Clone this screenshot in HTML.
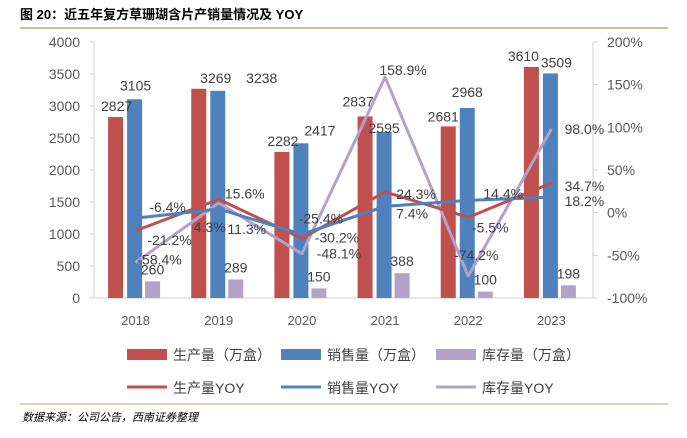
<!DOCTYPE html>
<html><head><meta charset="utf-8">
<style>
body{margin:0;background:#fff;width:687px;height:433px;overflow:hidden;font-family:"Liberation Sans","Noto Sans CJK SC",sans-serif;}
svg text{font-family:"Liberation Sans","Noto Sans CJK SC",sans-serif;}
</style></head><body>
<svg id="c" width="687" height="433">
<text x="20" y="19" font-size="13" font-weight="bold" fill="#000">图 20：近五年复方草珊瑚含片产销量情况及 YOY</text>
<line x1="20" y1="28" x2="668" y2="28" stroke="#c9a26a" stroke-width="1.5"/>
<line x1="20" y1="404" x2="668" y2="404" stroke="#c9a26a" stroke-width="1"/>
<text x="22" y="421" font-size="11" font-style="italic" fill="#000">数据来源：公司公告，西南证券整理</text>
<g id="plot"></g>
</svg>
<script>
const years=["2018","2019","2020","2021","2022","2023"];
const prod=[2827,3269,2282,2837,2681,3610];
const sales=[3105,3238,2417,2595,2968,3509];
const inv=[260,289,150,388,100,198];
const prodYoy=[-21.2,15.6,-30.2,24.3,-5.5,34.7];
const salesYoy=[-6.4,4.3,-25.4,7.4,14.4,18.2];
const invYoy=[-58.4,11.3,-48.1,158.9,-74.2,98.0];
const leftTicks=[0,500,1000,1500,2000,2500,3000,3500,4000];
const rightTicks=[-100,-50,0,50,100,150,200];

const NS="http://www.w3.org/2000/svg";
const g=document.getElementById('plot');
const X0=94,X1=593,Y0=298,Y1=42;
const band=(X1-X0)/years.length;
const xc=i=>X0+band*(i+0.5);
const yL=v=>Y0-(v/4000)*(Y0-Y1);
const yR=v=>Y0-((v+100)/300)*(Y0-Y1);
function mk(t,a,p){const e=document.createElementNS(NS,t);for(const k in a)e.setAttribute(k,a[k]);(p||g).appendChild(e);return e;}
function txt(x,y,s,a){const e=mk('text',Object.assign({x:x,y:y,'font-size':13,fill:'#404040'},a||{}));e.textContent=s;return e;}

const axL=mk('line',{x1:X0,y1:Y1,x2:X0,y2:Y0,stroke:'#d0d0d0'});

const axR=mk('line',{x1:X1,y1:Y1,x2:X1,y2:Y0,stroke:'#d0d0d0'});

const axB=mk('line',{x1:X0,y1:Y0,x2:X1,y2:Y0,stroke:'#d0d0d0'});

leftTicks.forEach(v=>{
  mk('line',{x1:X0-5,y1:yL(v),x2:X0,y2:yL(v),stroke:'#d0d0d0'});
  const t=txt(80,yL(v)+5,String(v),{'text-anchor':'end','font-size':14,fill:'#595959'});
  
});
rightTicks.forEach(v=>{
  mk('line',{x1:X1,y1:yR(v),x2:X1+5,y2:yR(v),stroke:'#d0d0d0'});
  const t=txt(607,yR(v)+5,v+'%',{'font-size':14,fill:'#595959'});
  
});
years.forEach((y,i)=>{
  const t=txt(xc(i),325,y,{'text-anchor':'middle','font-size':13,fill:'#595959'});
  
});

const BW=15;
const series=[[prod,'#c0504d',-20,'bar-production'],[sales,'#4f81bd',-1,'bar-sales'],[inv,'#b3a2c7',17,'bar-inventory']];
series.forEach(([arr,col,off,name])=>{
  arr.forEach((v,i)=>{
    const cx=xc(i)+off;
    const r=mk('rect',{x:cx-BW/2,y:yL(v),width:BW,height:Y0-yL(v),fill:col});
    
  });
});
const prodDx=[-19,-3,-19,-27,-25,-28], prodDy=[-6,-6,-6,-10,-5,-6];
const salesDx=[0,43,18,-1,-1,5], salesDy=[-9,-8,-8,1,-11,-6];
prod.forEach((v,i)=>{const t=txt(xc(i)+prodDx[i],yL(v)+prodDy[i],String(v),{'text-anchor':'middle','font-size':14});
  });
sales.forEach((v,i)=>{const t=txt(xc(i)+salesDx[i],yL(v)+salesDy[i],String(v),{'text-anchor':'middle','font-size':14});
  });
inv.forEach((v,i)=>{const t=txt(xc(i)+17,yL(v)-7,String(v),{'text-anchor':'middle','font-size':14});
  });

function line(arr,col,name){
  const pts=arr.map((v,i)=>xc(i)+','+yR(v)).join(' ');
  const p=mk('polyline',{points:pts,fill:'none',stroke:col,'stroke-width':3,'stroke-linejoin':'round'});
  
}
line(invYoy,'#b3a2c7','line-inventory-yoy');
line(prodYoy,'#c0504d','line-production-yoy');
line(salesYoy,'#4f81bd','line-sales-yoy');

const pyOff=[[34,14],[26,-1],[35,4],[31,7],[22,15],[33,8]];
const syOff=[[32,-6],[-9,23],[19,-11],[27,12],[35,-2],[33,9]];
const iyOff=[[24,2],[28,31],[37,5],[18,-2],[8,-16],[33,5]];
function labels(arr,offs,name){
  arr.forEach((v,i)=>{const t=txt(xc(i)+offs[i][0],yR(v)+offs[i][1],v.toFixed(1)+'%',{'text-anchor':'middle','font-size':14});
    });
}
labels(prodYoy,pyOff,'production-yoy-label');
labels(salesYoy,syOff,'sales-yoy-label');
labels(invYoy,iyOff,'inventory-yoy-label');

const leg=[[127,349,'#c0504d','生产量（万盒）','rect'],[281,349,'#4f81bd','销售量（万盒）','rect'],[436,349,'#b3a2c7','库存量（万盒）','rect'],
 [127,382,'#c0504d','生产量YOY','line'],[281,382,'#4f81bd','销售量YOY','line'],[436,382,'#b3a2c7','库存量YOY','line']];
leg.forEach(([x,y,c,s,k])=>{
  const grp=mk('g',{});
  
  if(k==='rect')mk('rect',{x:x,y:y,width:40,height:11,fill:c},grp);
  else mk('line',{x1:x,y1:y+5,x2:x+40,y2:y+5,stroke:c,'stroke-width':3},grp);
  const t=mk('text',{x:x+46,y:y+11,'font-size':14,fill:'#404040'},grp);t.textContent=s;
});
</script>
</body></html>
